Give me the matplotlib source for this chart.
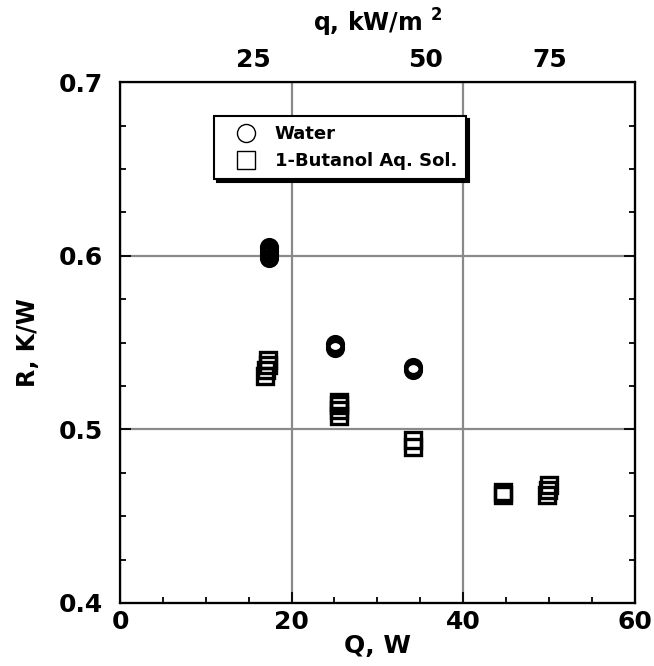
import matplotlib
matplotlib.use("Agg")
import matplotlib.pyplot as plt
from matplotlib.lines import Line2D

plt.rcParams['font.family'] = ['DejaVu Sans']
plt.rcParams['font.weight'] = 'bold'
plt.rcParams['mathtext.fontset'] = 'custom'
plt.rcParams['mathtext.rm'] = 'DejaVu Sans:bold'
plt.rcParams['mathtext.bf'] = 'DejaVu Sans:bold'

# data
water_Q = [17.4, 17.4, 17.4, 17.4, 25.1, 25.1, 34.1, 34.1]
water_R = [0.599, 0.601, 0.603, 0.605, 0.547, 0.549, 0.534, 0.536]

butanol_Q = [16.9, 17.0, 17.2, 17.2, 25.5, 25.5, 25.5, 25.5,
             34.1, 34.2, 44.6, 44.6, 49.8, 49.9, 50.0]
butanol_R = [0.531, 0.534, 0.537, 0.540, 0.508, 0.511, 0.514, 0.516,
             0.490, 0.494, 0.462, 0.464, 0.462, 0.465, 0.468]

q_ticks_at_Q = [15.6, 35.6, 50.1]
q_tick_labels = ['25', '50', '75']

fig = plt.figure(figsize=(6.54, 6.66), dpi=100)
ax = fig.add_axes([0.1835, 0.0946, 0.787, 0.782])

ax.plot(water_Q, water_R, 'o', ms=10.8, mfc='none', mec='black', mew=3.0,
        linestyle='none', zorder=3)
ax.plot(butanol_Q, butanol_R, 's', ms=12.2, mfc='none', mec='black', mew=2.4,
        linestyle='none', zorder=3)

ax.set_xlim(0, 60)
ax.set_ylim(0.4, 0.7)
ax.set_xticks([0, 20, 40, 60])
ax.set_xticks(range(0, 61, 5), minor=True)
ax.set_yticks([0.4, 0.5, 0.6, 0.7])
ax.set_yticks([0.4 + 0.025 * i for i in range(13)], minor=True)
ax.set_yticklabels(['0.4', '0.5', '0.6', '0.7'])
ax.tick_params(which='both', direction='in', top=True, right=True,
               labelsize=18, width=1.3)
ax.tick_params(axis='y', pad=12)
ax.tick_params(axis='x', pad=5)
ax.tick_params(which='major', length=8)
ax.tick_params(which='minor', length=4)
ax.grid(True, which='major', color='#8a8a8a', linewidth=1.6)
for s in ax.spines.values():
    s.set_linewidth(1.6)

ax.set_xlabel('Q, W', fontsize=18, fontweight='bold', labelpad=0)
ax.set_ylabel('R, K/W', fontsize=17, fontweight='bold', labelpad=14)

# top axis: heat flux labels
top = ax.twiny()
top.set_xlim(ax.get_xlim())
top.set_xticks(q_ticks_at_Q)
top.set_xticklabels(q_tick_labels)
top.tick_params(axis='x', length=0, labelsize=18, pad=7)
top.set_xlabel('q, kW/m $^{2}$', fontsize=17, fontweight='bold', labelpad=12)

handles = [
    Line2D([], [], marker='o', ms=13, mfc='none', mec='black', mew=1.0, linestyle='none'),
    Line2D([], [], marker='s', ms=13, mfc='none', mec='black', mew=1.0, linestyle='none'),
]
leg = ax.legend(handles, ['Water', '1-Butanol Aq. Sol.'], loc='upper left',
                bbox_to_anchor=(0.183, 0.935), borderaxespad=0, fancybox=False,
                framealpha=1, edgecolor='black',
                prop={'weight': 'bold', 'size': 13}, handletextpad=0.35,
                labelspacing=0.5, borderpad=0.5, handlelength=2.5,
                shadow={'color': 'black', 'alpha': 1})
leg.get_frame().set_linewidth(1.5)

fig.savefig('out.png', dpi=100)
